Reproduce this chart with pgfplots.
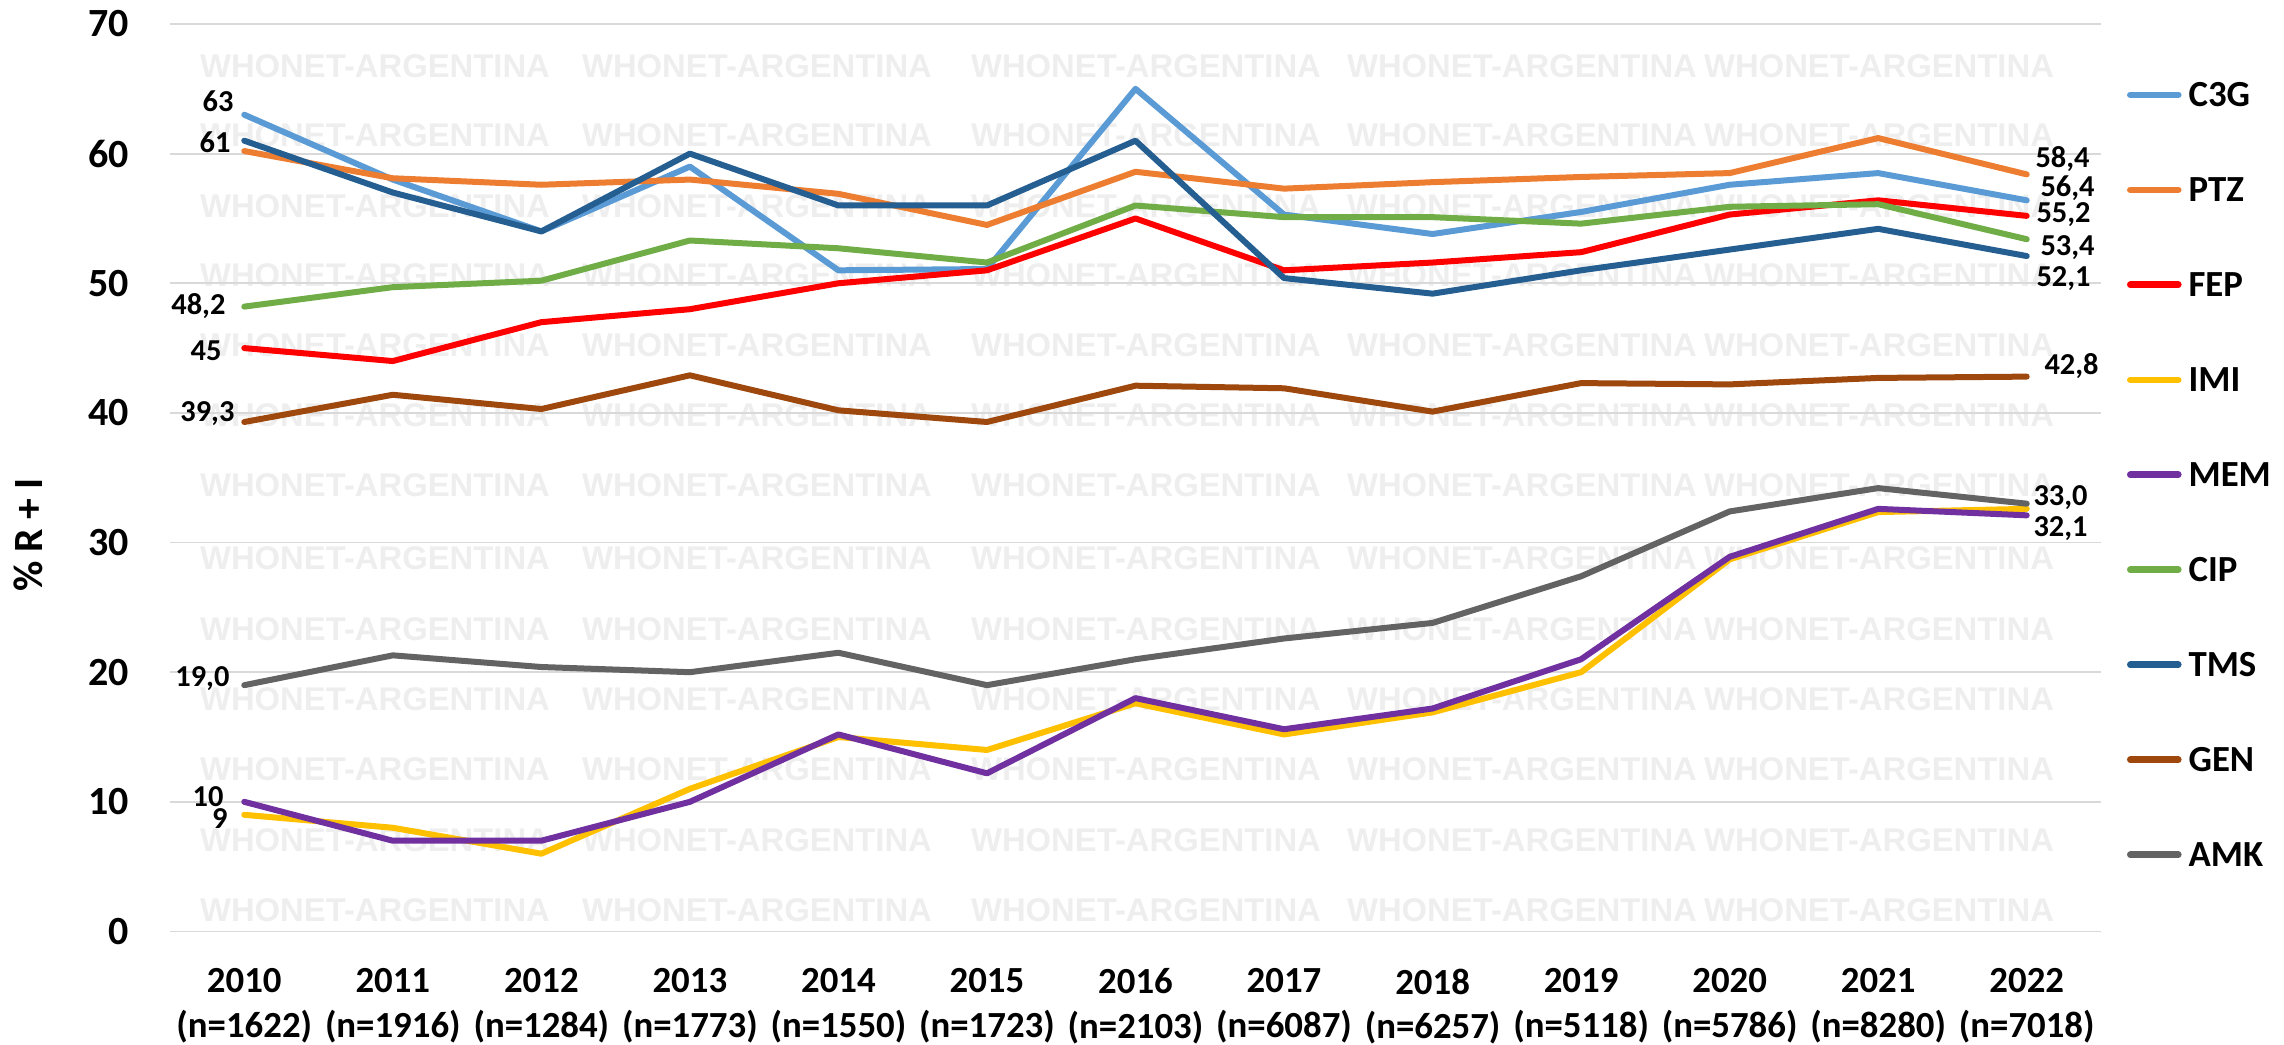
\documentclass[border=0pt]{standalone}
\usepackage{fontspec}
\setmainfont{Carlito}
\newfontfamily\wmfont{Liberation Sans}
\usepackage{pgfplots}
\pgfplotsset{compat=1.18}
\definecolor{cC3G}{HTML}{5B9BD5}
\definecolor{cPTZ}{HTML}{ED7D31}
\definecolor{cFEP}{HTML}{FF0000}
\definecolor{cIMI}{HTML}{FFC000}
\definecolor{cMEM}{HTML}{7030A0}
\definecolor{cCIP}{HTML}{70AD47}
\definecolor{cTMS}{HTML}{255E91}
\definecolor{cGEN}{HTML}{9E480E}
\definecolor{cAMK}{HTML}{636363}
\definecolor{gridc}{HTML}{D9D9D9}
\definecolor{wmc}{HTML}{EEEEEE}
\begin{document}
\begin{tikzpicture}
\useasboundingbox (0,0) rectangle (571pt,261.25pt);
% watermark
\foreach \yy in {244.75,227.5,209.75,192.5,175,157.5,140,121.75,104,86.5,69,51.25,33.75}{
  \foreach \xx in {93.75,189.25,286.5,380.5,469.75}{
    \node[inner sep=0pt,text=wmc,font=\wmfont\bfseries\fontsize{8.2}{9}\selectfont] at (\xx pt,\yy pt) {WHONET-ARGENTINA};
  }
}
\node[rotate=90,inner sep=0pt,font=\bfseries\fontsize{10.4}{12}\selectfont] at (7.2pt,127.5pt) {\% R + I};
\begin{axis}[
  at={(42.5pt,28.375pt)}, anchor=south west,
  scale only axis, width=482.75pt, height=226.875pt,
  xmin=-0.5, xmax=12.5, ymin=0, ymax=70,
  ytick={0,10,...,70},
  xtick={0,...,12},
  xticklabels={{2010\\(n=1622)},{2011\\(n=1916)},{2012\\(n=1284)},{2013\\(n=1773)},{2014\\(n=1550)},{2015\\(n=1723)},{2016\\(n=2103)},{2017\\(n=6087)},{2018\\(n=6257)},{2019\\(n=5118)},{2020\\(n=5786)},{2021\\(n=8280)},{2022\\(n=7018)}},
  xticklabel style={align=center, inner sep=0pt, anchor=north, yshift=-9.1pt, font=\bfseries\fontsize{9.2}{11.2}\selectfont},
  yticklabel style={inner sep=0pt, anchor=east, xshift=-10pt, font=\bfseries\fontsize{10}{12}\selectfont},
  /pgf/number format/assume math mode=true,
  axis line style={draw=none},
  tick style={draw=none},
  major tick length=0pt,
  ymajorgrids,
  major grid style={draw=gridc, line width=0.45pt},
  clip=false,
  every axis plot/.append style={line width=1.5pt, line join=round, line cap=round},
  legend style={at={(axis description cs:1.01346,0.935)}, anchor=north west, draw=none, fill=none, inner sep=0pt, outer sep=0pt,
    font=\bfseries\fontsize{9.2}{11}\selectfont, row sep=17.85pt,
    nodes={inner sep=0pt, text height=5.9pt, text depth=0pt, anchor=west},
    /tikz/every odd column/.append style={column sep=1.75pt}},
  legend cell align=left,
  legend image code/.code={\draw[line width=1.65pt, line cap=round] (0pt,0pt) -- (12pt,0pt);},
]
\addplot[cC3G] coordinates {(0,63) (1,58) (2,54) (3,59) (4,51) (5,51.1) (6,65) (7,55.3) (8,53.8) (9,55.5) (10,57.6) (11,58.5) (12,56.4)};
\addlegendentry{C3G}
\addplot[cPTZ] coordinates {(0,60.2) (1,58.1) (2,57.6) (3,58.0) (4,56.9) (5,54.5) (6,58.6) (7,57.3) (8,57.8) (9,58.2) (10,58.5) (11,61.2) (12,58.4)};
\addlegendentry{PTZ}
\addplot[cFEP] coordinates {(0,45) (1,44) (2,47) (3,48) (4,50) (5,51) (6,55) (7,51) (8,51.6) (9,52.4) (10,55.3) (11,56.4) (12,55.2)};
\addlegendentry{FEP}
\addplot[cIMI] coordinates {(0,9) (1,8) (2,6) (3,11) (4,15) (5,14) (6,17.6) (7,15.2) (8,16.9) (9,20) (10,28.7) (11,32.35) (12,32.6)};
\addlegendentry{IMI}
\addplot[cMEM] coordinates {(0,10) (1,7) (2,7) (3,10) (4,15.2) (5,12.2) (6,18) (7,15.6) (8,17.2) (9,21) (10,28.9) (11,32.6) (12,32.1)};
\addlegendentry{MEM}
\addplot[cCIP] coordinates {(0,48.2) (1,49.7) (2,50.2) (3,53.3) (4,52.7) (5,51.6) (6,56.0) (7,55.1) (8,55.1) (9,54.6) (10,55.9) (11,56.1) (12,53.4)};
\addlegendentry{CIP}
\addplot[cTMS] coordinates {(0,61) (1,57) (2,54) (3,60) (4,56) (5,56) (6,61) (7,50.4) (8,49.2) (9,51) (10,52.6) (11,54.2) (12,52.1)};
\addlegendentry{TMS}
\addplot[cGEN] coordinates {(0,39.3) (1,41.4) (2,40.3) (3,42.9) (4,40.2) (5,39.3) (6,42.1) (7,41.9) (8,40.1) (9,42.3) (10,42.2) (11,42.7) (12,42.8)};
\addlegendentry{GEN}
\addplot[cAMK] coordinates {(0,19.0) (1,21.3) (2,20.4) (3,20.0) (4,21.5) (5,19.0) (6,21.0) (7,22.6) (8,23.8) (9,27.4) (10,32.4) (11,34.2) (12,33.0)};
\addlegendentry{AMK}
% data labels
\tikzset{dl/.style={inner sep=0pt, font=\bfseries\fontsize{7.6}{9}\selectfont}}
\node[dl, anchor=base east, yshift=-2.4pt, xshift=-2.5pt] at (axis cs:0,64.0) {63};
\node[dl, anchor=base east, yshift=-2.4pt, xshift=-3.25pt] at (axis cs:0,60.8) {61};
\node[dl, anchor=base east, yshift=-2.4pt, xshift=-4.5pt] at (axis cs:0,48.3) {48,2};
\node[dl, anchor=base east, yshift=-2.4pt, xshift=-5.5pt] at (axis cs:0,44.8) {45};
\node[dl, anchor=base east, yshift=-2.4pt, xshift=-2.25pt] at (axis cs:0,40.1) {39,3};
\node[dl, anchor=base east, yshift=-2.4pt, xshift=-3.5pt] at (axis cs:0,19.6) {19,0};
\node[dl, anchor=base east, yshift=-2.4pt, xshift=-5pt] at (axis cs:0,10.4) {10};
\node[dl, anchor=base east, yshift=-2.4pt, xshift=-4pt] at (axis cs:0,8.7) {9};
\node[dl, anchor=base west, yshift=-2.4pt, xshift=2pt] at (axis cs:12,59.7) {58,4};
\node[dl, anchor=base west, yshift=-2.4pt, xshift=3.25pt] at (axis cs:12,57.4) {56,4};
\node[dl, anchor=base west, yshift=-2.4pt, xshift=2.25pt] at (axis cs:12,55.4) {55,2};
\node[dl, anchor=base west, yshift=-2.4pt, xshift=3.25pt] at (axis cs:12,52.9) {53,4};
\node[dl, anchor=base west, yshift=-2.4pt, xshift=2.25pt] at (axis cs:12,50.5) {52,1};
\node[dl, anchor=base west, yshift=-2.4pt, xshift=4.25pt] at (axis cs:12,43.7) {42,8};
\node[dl, anchor=base west, yshift=-2.4pt, xshift=1.5pt] at (axis cs:12,33.6) {33,0};
\node[dl, anchor=base west, yshift=-2.4pt, xshift=1.5pt] at (axis cs:12,31.2) {32,1};
\end{axis}
\end{tikzpicture}
\end{document}
